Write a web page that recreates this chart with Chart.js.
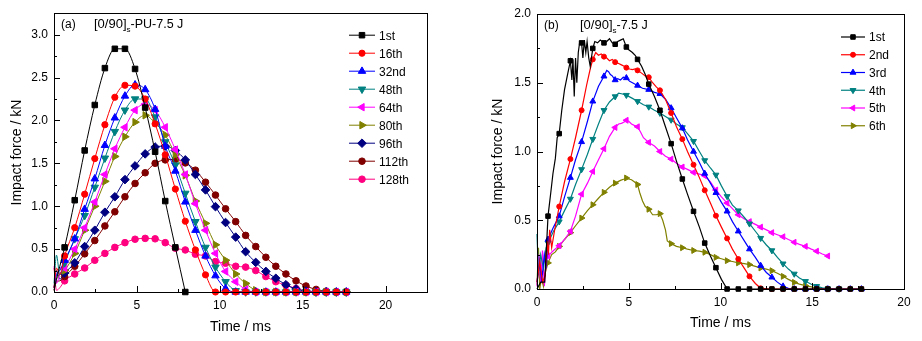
<!DOCTYPE html>
<html>
<head>
<meta charset="utf-8">
<script src="https://cdn.jsdelivr.net/npm/chart.js@4.4.1/dist/chart.umd.min.js"></script>
<style>
  html, body { margin: 0; padding: 0; background: #fff; }
  #wrap { position: relative; width: 922px; height: 341px; }
  canvas { position: absolute; top: 0; }
  #chartA { left: 0; }
  #chartB { left: 460px; }
</style>
</head>
<body>
<div id="wrap">
  <canvas id="chartA" width="460" height="341"></canvas>
  <canvas id="chartB" width="462" height="341"></canvas>
</div>
<script>
// ---- panel (a): [0/90]s-PU, repeated 7.5 J impacts (time in ms, force in kN)
const timeA = [0, 0.15, 0.35, 0.64, 1.25, 1.85, 2.46, 3.07, 3.67, 4.28, 4.89, 5.5, 6.1, 6.71, 7.32, 7.92,
  8.53, 9.14, 9.74, 10.35, 10.96, 11.56, 12.17, 12.78, 13.38, 13.99, 14.6, 15.2, 15.81, 16.42, 17.03, 17.63];
const forceA1st = [0.02, 0.15, 0.3, 0.52, 1.07, 1.65, 2.18, 2.61, 2.835, 2.835, 2.6, 2.15, 1.635, 1.06, 0.52, 0.0];
const forceA16th = [0.05, 0.28, 0.2, 0.42, 0.75, 1.14, 1.555, 1.95, 2.27, 2.41, 2.40, 2.25, 1.96, 1.6, 1.2, 0.825,
  0.49, 0.2, 0.0, 0, 0, 0, 0, 0, 0, 0, 0, 0, 0, 0, 0, 0];
const forceA32nd = [0.05, 0.2, 0.25, 0.37, 0.62, 0.965, 1.32, 1.71, 2.03, 2.285, 2.415, 2.36, 2.13, 1.70, 1.41, 1.05,
  0.72, 0.42, 0.19, 0.04, 0.0, 0, 0, 0, 0, 0, 0, 0, 0, 0, 0, 0];
const forceA48th = [0.1, 0.43, 0.2, 0.34, 0.62, 0.89, 1.22, 1.56, 1.87, 2.12, 2.25, 2.25, 2.04, 1.75, 1.48, 1.15,
  0.82, 0.52, 0.29, 0.12, 0.015, 0, 0, 0, 0, 0, 0, 0, 0, 0, 0, 0];
const forceA64th = [0.3, 0.1, 0.2, 0.28, 0.5, 0.75, 1.05, 1.37, 1.67, 1.92, 2.12, 2.19, 2.12, 1.92, 1.66, 1.37,
  1.03, 0.72, 0.45, 0.24, 0.12, 0.03, 0, 0, 0, 0, 0, 0, 0, 0, 0, 0];
const forceA80th = [0.05, 0.15, 0.2, 0.25, 0.45, 0.72, 1.0, 1.29, 1.58, 1.81, 1.98, 2.06, 1.97, 1.83, 1.6, 1.36,
  1.06, 0.8, 0.55, 0.37, 0.21, 0.1, 0.02, 0, 0, 0, 0, 0, 0, 0, 0, 0];
const forceA96th = [0.05, 0.25, 0.15, 0.22, 0.34, 0.53, 0.72, 0.93, 1.11, 1.31, 1.47, 1.61, 1.69, 1.70, 1.65, 1.54,
  1.37, 1.19, 0.995, 0.81, 0.64, 0.47, 0.345, 0.24, 0.16, 0.085, 0.035, 0.01, 0, 0, 0, 0];
const forceA112th = [0.02, 0.12, 0.13, 0.18, 0.3, 0.445, 0.6, 0.77, 0.935, 1.11, 1.265, 1.39, 1.5, 1.54, 1.545, 1.505,
  1.42, 1.28, 1.13, 0.97, 0.82, 0.66, 0.53, 0.405, 0.3, 0.21, 0.13, 0.07, 0.03, 0.01, 0, 0];
const forceA128th = [0.28, 0.02, 0.05, 0.13, 0.21, 0.28, 0.37, 0.45, 0.52, 0.575, 0.615, 0.625, 0.62, 0.575, 0.51, 0.49,
  0.44, 0.42, 0.355, 0.335, 0.30, 0.29, 0.25, 0.18, 0.12, 0.08, 0.04, 0.015, 0.005, 0, 0, 0];

// ---- panel (b): [0/90]s reference laminate, 7.5 J impacts
const timeB1st = [0, 0.2, 0.42, 0.6, 0.75, 0.87, 1.0, 1.1, 1.21, 1.35, 1.5, 1.65, 1.82, 1.9, 1.96, 2.03, 2.1, 2.17, 2.25, 2.33,
  2.43, 2.5, 2.58, 2.66, 2.73, 2.82, 2.9, 3.04, 3.15, 3.3, 3.45, 3.65, 3.8, 3.95, 4.1, 4.26, 4.4, 4.55, 4.7, 4.87, 5.0, 5.2,
  5.35, 5.48, 5.7, 5.9, 6.09, 6.4, 6.7, 7.0, 7.31, 7.6, 7.92, 8.2, 8.53, 8.85, 9.14, 9.45, 9.75, 10.05, 10.36, 10.97,
  11.58, 12.19, 12.8, 13.41, 14.02, 14.63, 15.24, 15.85, 16.46, 17.07, 17.68];
const forceB1st = [0, 0.05, 0.05, 0.53, 0.7, 0.84, 0.95, 1.1, 1.13, 1.3, 1.45, 1.55, 1.66, 1.52, 1.67, 1.4, 1.68, 1.5, 1.72, 1.8,
  1.79, 1.68, 1.81, 1.72, 1.8, 1.68, 1.62, 1.75, 1.8, 1.79, 1.81, 1.79, 1.8, 1.82, 1.79, 1.78, 1.8, 1.81, 1.82, 1.76, 1.74, 1.72,
  1.7, 1.67, 1.62, 1.56, 1.49, 1.4, 1.3, 1.18, 1.057, 0.93, 0.8, 0.69, 0.565, 0.45, 0.334, 0.24, 0.155, 0.07, 0, 0,
  0, 0, 0, 0, 0, 0, 0, 0, 0, 0, 0];
const timeB2nd = [0, 0.15, 0.3, 0.45, 0.55, 0.62, 0.69, 0.8, 0.95, 1.21, 1.5, 1.82, 2.1, 2.43, 2.7, 2.9, 3.04, 3.2, 3.35, 3.5,
  3.65, 3.8, 3.95, 4.1, 4.26, 4.45, 4.6, 4.75, 4.87, 5.05, 5.2, 5.35, 5.48, 5.7, 5.9, 6.09, 6.3, 6.5, 6.7, 7.0, 7.31, 7.6,
  7.92, 8.2, 8.53, 8.85, 9.14, 9.45, 9.75, 10.05, 10.36, 10.65, 10.97, 11.3, 11.58, 11.9, 12.19, 12.8, 13.41, 14.02,
  14.63, 15.24, 15.85, 16.46, 17.07, 17.68];
const forceB2nd = [0.05, 0.2, 0.05, 0.1, 0.35, 0.25, 0.43, 0.3, 0.42, 0.6, 0.78, 0.945, 1.1, 1.3, 1.48, 1.6, 1.67, 1.72, 1.7, 1.71,
  1.69, 1.68, 1.66, 1.67, 1.65, 1.64, 1.63, 1.62, 1.61, 1.6, 1.595, 1.6, 1.59, 1.57, 1.55, 1.54, 1.5, 1.47, 1.445, 1.38, 1.28, 1.18,
  1.09, 1.0, 0.904, 0.81, 0.718, 0.625, 0.533, 0.45, 0.368, 0.29, 0.218, 0.15, 0.092, 0.04, 0.005, 0, 0, 0,
  0, 0, 0, 0, 0, 0];
const timeB3rd = [0, 0.15, 0.25, 0.4, 0.5, 0.6, 0.9, 1.21, 1.5, 1.82, 2.1, 2.43, 2.75, 3.04, 3.35, 3.65, 3.8, 3.9, 4.0, 4.1,
  4.26, 4.4, 4.55, 4.7, 4.87, 5.05, 5.2, 5.48, 5.75, 6.09, 6.4, 6.7, 7.0, 7.31, 7.6, 7.92, 8.2, 8.53, 8.85, 9.14, 9.45, 9.75,
  10.05, 10.36, 10.65, 10.97, 11.3, 11.58, 11.9, 12.19, 12.5, 12.8, 13.1, 13.41, 13.7, 14.02, 14.63, 15.24, 15.85, 16.46,
  17.07, 17.68];
const forceB3rd = [0.05, 0.2, 0.05, 0.25, 0.15, 0.36, 0.45, 0.53, 0.67, 0.81, 0.94, 1.07, 1.22, 1.365, 1.475, 1.547, 1.59, 1.58, 1.56, 1.55,
  1.52, 1.53, 1.52, 1.54, 1.535, 1.51, 1.5, 1.48, 1.46, 1.45, 1.43, 1.42, 1.38, 1.316, 1.245, 1.17, 1.085, 1.0, 0.92, 0.84, 0.77, 0.70,
  0.63, 0.565, 0.49, 0.42, 0.35, 0.29, 0.23, 0.17, 0.12, 0.085, 0.05, 0.02, 0.005, 0, 0, 0, 0, 0,
  0, 0];
const timeB4th = [0, 0.08, 0.2, 0.35, 0.5, 0.6, 0.9, 1.21, 1.5, 1.82, 2.1, 2.43, 2.75, 3.04, 3.35, 3.65, 3.95, 4.26, 4.45, 4.6,
  4.75, 4.87, 5.15, 5.48, 5.8, 6.09, 6.4, 6.7, 7.0, 7.31, 7.6, 7.92, 8.2, 8.53, 8.85, 9.14, 9.45, 9.75, 10.05, 10.36, 10.65,
  10.97, 11.3, 11.58, 11.9, 12.19, 12.5, 12.8, 13.1, 13.41, 13.7, 14.02, 14.3, 14.63, 14.95, 15.24, 15.55, 15.85, 16.46];
const forceB4th = [0.4, 0.1, 0.25, 0.15, 0.3, 0.335, 0.42, 0.49, 0.57, 0.655, 0.76, 0.87, 0.98, 1.09, 1.2, 1.30, 1.36, 1.40, 1.425, 1.42,
  1.415, 1.41, 1.39, 1.365, 1.34, 1.325, 1.30, 1.28, 1.255, 1.23, 1.2, 1.175, 1.13, 1.075, 1.0, 0.935, 0.88, 0.83, 0.75, 0.674, 0.61,
  0.57, 0.52, 0.475, 0.42, 0.37, 0.32, 0.28, 0.23, 0.184, 0.145, 0.11, 0.08, 0.056, 0.035, 0.02, 0.008, 0.002, 0];
const timeB5th = [0, 0.1, 0.2, 0.3, 0.4, 0.5, 0.6, 0.9, 1.21, 1.5, 1.82, 2.1, 2.43, 2.75, 3.04, 3.35, 3.65, 3.95, 4.26, 4.45,
  4.6, 4.75, 4.87, 5.0, 5.15, 5.3, 5.48, 5.65, 5.8, 6.09, 6.4, 6.7, 7.0, 7.31, 7.6, 7.92, 8.2, 8.53, 8.85, 9.14, 9.45, 9.75,
  10.05, 10.36, 10.65, 10.97, 11.3, 11.58, 11.9, 12.19, 12.5, 12.8, 13.1, 13.41, 13.7, 14.02, 14.3, 14.63, 14.95, 15.24,
  15.55, 15.85];
const forceB5th = [0.02, 0.25, 0.05, 0.28, 0.02, 0.2, 0.24, 0.28, 0.315, 0.36, 0.42, 0.53, 0.69, 0.77, 0.855, 0.94, 1.02, 1.11, 1.175, 1.2,
  1.205, 1.215, 1.227, 1.22, 1.2, 1.19, 1.18, 1.14, 1.1, 1.066, 1.04, 1.0, 0.965, 0.945, 0.915, 0.887, 0.87, 0.848, 0.835, 0.824, 0.78, 0.72,
  0.67, 0.625, 0.585, 0.54, 0.51, 0.49, 0.47, 0.45, 0.43, 0.41, 0.395, 0.38, 0.36, 0.34, 0.325, 0.31, 0.29, 0.275,
  0.255, 0.24];
const timeB6th = [0, 0.08, 0.15, 0.25, 0.35, 0.45, 0.6, 0.8, 1.0, 1.21, 1.5, 1.82, 2.1, 2.43, 2.75, 3.04, 3.35, 3.65, 3.95, 4.26,
  4.55, 4.75, 4.87, 5.0, 5.15, 5.3, 5.48, 5.6, 5.75, 5.9, 6.09, 6.3, 6.5, 6.7, 6.85, 7.0, 7.1, 7.31, 7.6, 7.92, 8.2, 8.53,
  8.85, 9.14, 9.45, 9.75, 10.05, 10.36, 10.65, 10.97, 11.3, 11.58, 11.9, 12.19, 12.5, 12.8, 13.1, 13.41, 13.7, 14.02,
  14.3, 14.63, 14.95, 15.24, 15.55, 15.85];
const forceB6th = [0.03, 0.3, 0.0, 0.08, 0.02, 0.12, 0.19, 0.25, 0.27, 0.31, 0.36, 0.41, 0.46, 0.516, 0.57, 0.613, 0.66, 0.703, 0.74, 0.77,
  0.79, 0.8, 0.807, 0.8, 0.795, 0.78, 0.76, 0.7, 0.64, 0.6, 0.58, 0.54, 0.54, 0.548, 0.5, 0.43, 0.35, 0.33, 0.31, 0.3, 0.29, 0.28,
  0.275, 0.267, 0.25, 0.23, 0.22, 0.206, 0.2, 0.19, 0.185, 0.177, 0.165, 0.153, 0.145, 0.133, 0.115, 0.092, 0.07, 0.048,
  0.035, 0.024, 0.015, 0.007, 0.003, 0];

const xTicks = [0, 5, 10, 15, 20];

const FONT = 'Arial, "Liberation Sans", sans-serif';
Chart.defaults.font.family = FONT;
Chart.defaults.color = '#000';

function pairs(times, forces) {
  return forces.map((f, i) => ({ x: times[i], y: f }));
}

// panel (b) markers sit on every 0.61 ms sample starting at 0.6 ms
function onMarkGrid(x) {
  const k = (x - 0.6) / 0.61;
  return x > 0.55 && Math.abs(k - Math.round(k)) < 0.02;
}

function series(label, data, color, style, rotation, radius, lineWidth, markAt) {
  return {
    label, data,
    borderColor: color, backgroundColor: color,
    pointBackgroundColor: color, pointBorderColor: color,
    borderWidth: lineWidth, pointBorderWidth: 1,
    pointStyle: style, rotation,
    markerRadius: radius,
    pointRadius: ctx => (ctx.raw && markAt(ctx.raw.x) ? radius : 0),
    pointHoverRadius: 0,
    clip: false
  };
}

function drawMarker(ctx, style, rot, r, x, y) {
  ctx.beginPath();
  if (style === 'circle') {
    ctx.arc(x, y, r, 0, Math.PI * 2);
  } else if (style === 'rect') {
    const s = r * Math.SQRT1_2;
    ctx.rect(x - s, y - s, 2 * s, 2 * s);
  } else if (style === 'rectRot') {
    ctx.moveTo(x, y - r); ctx.lineTo(x + r, y); ctx.lineTo(x, y + r); ctx.lineTo(x - r, y);
    ctx.closePath();
  } else {
    let a = (rot || 0) * Math.PI / 180;
    ctx.moveTo(x + Math.sin(a) * r, y - Math.cos(a) * r);
    a += Math.PI * 2 / 3;
    ctx.lineTo(x + Math.sin(a) * r, y - Math.cos(a) * r);
    a += Math.PI * 2 / 3;
    ctx.lineTo(x + Math.sin(a) * r, y - Math.cos(a) * r);
    ctx.closePath();
  }
  ctx.fill();
  ctx.stroke();
}

// frame, inward ticks, in-plot legend and panel caption
const panelDecor = {
  id: 'panelDecor',
  afterDraw(chart, args, o) {
    const { ctx, chartArea: a } = chart;
    const xs = chart.scales.x, ys = chart.scales.y;
    ctx.save();
    ctx.strokeStyle = '#000';
    ctx.lineWidth = 1;
    ctx.beginPath();
    for (let i = 0; i * o.yMinor <= ys.max + 1e-9; i++) {
      const py = Math.round(ys.getPixelForValue(i * o.yMinor)) + 0.5;
      const len = i % 2 === 0 ? 6 : 3;
      ctx.moveTo(a.left, py); ctx.lineTo(a.left + len, py);
    }
    for (let i = 0; i * o.xMinor <= xs.max + 1e-9; i++) {
      const px = Math.round(xs.getPixelForValue(i * o.xMinor)) + 0.5;
      const len = i % 2 === 0 ? 6 : 3;
      ctx.moveTo(px, a.bottom); ctx.lineTo(px, a.bottom - len);
    }
    ctx.stroke();
    ctx.strokeRect(Math.round(a.left) + 0.5, Math.round(a.top) + 0.5,
      Math.round(a.right - a.left), Math.round(a.bottom - a.top));

    // legend: short line with the marker centred on it
    ctx.font = '12px ' + FONT;
    ctx.textBaseline = 'middle';
    ctx.textAlign = 'left';
    chart.data.datasets.forEach((ds, i) => {
      const y = a.top + o.legendTop + i * o.legendStep;
      const x1 = a.right + o.legendX1, x2 = a.right + o.legendX2;
      ctx.strokeStyle = ds.borderColor;
      ctx.fillStyle = ds.borderColor;
      ctx.lineWidth = ds.borderWidth;
      ctx.beginPath(); ctx.moveTo(x1, y); ctx.lineTo(x2, y); ctx.stroke();
      ctx.lineWidth = 1;
      drawMarker(ctx, ds.pointStyle, ds.rotation, ds.markerRadius, (x1 + x2) / 2, y);
      ctx.fillStyle = '#000';
      ctx.fillText(ds.label, a.right + o.legendText, y + 1);
    });

    // caption "(a)  [0/90]s-..."
    ctx.fillStyle = '#000';
    ctx.textBaseline = 'alphabetic';
    ctx.font = '12px ' + FONT;
    const by = a.top + o.capY;
    ctx.fillText(o.tag, a.left + 7, by);
    let cx = a.left + o.capX;
    ctx.font = '13px ' + FONT;
    ctx.fillText('[0/90]', cx, by);
    cx += ctx.measureText('[0/90]').width;
    ctx.font = '8px ' + FONT;
    ctx.fillText('s', cx, by + 4);
    cx += ctx.measureText('s').width;
    ctx.font = '12.5px ' + FONT;
    ctx.fillText(o.rest, cx, by);
    ctx.restore();
  }
};

function axes(xMax, yMax, yWidth, xHeight, yTitlePad, xTitlePad) {
  return {
    x: {
      type: 'linear', min: 0, max: xMax,
      afterFit: s => { s.height = xHeight; },
      afterBuildTicks: s => { s.ticks = xTicks.filter(v => v <= xMax).map(v => ({ value: v })); },
      ticks: { font: { size: 12 }, padding: 6, maxRotation: 0, callback: v => String(v) },
      grid: { display: false, drawTicks: false },
      border: { display: false },
      title: { display: true, text: 'Time / ms', font: { size: 14 }, padding: { top: 0, bottom: xTitlePad } }
    },
    y: {
      type: 'linear', min: 0, max: yMax,
      afterFit: s => { s.width = yWidth; },
      ticks: { stepSize: 0.5, includeBounds: false, font: { size: 12 }, padding: 6, callback: v => v.toFixed(1) },
      grid: { display: false, drawTicks: false },
      border: { display: false },
      title: { display: true, text: 'Impact force / kN', font: { size: 14 }, padding: { top: yTitlePad, bottom: 0 } }
    }
  };
}

new Chart(document.getElementById('chartA'), {
  type: 'line',
  data: {
    datasets: [
      series('1st', pairs(timeA, forceA1st), '#000000', 'rect', 0, 3.9, 1, x => x > 0.5),
      series('16th', pairs(timeA, forceA16th), '#ff0000', 'circle', 0, 3.1, 1, x => x > 0.5),
      series('32nd', pairs(timeA, forceA32nd), '#0000ff', 'triangle', 0, 4.3, 1, x => x > 0.5),
      series('48th', pairs(timeA, forceA48th), '#008080', 'triangle', 180, 4.3, 1, x => x > 0.5),
      series('64th', pairs(timeA, forceA64th), '#ff00ff', 'triangle', 270, 4.3, 1, x => x > 0.5),
      series('80th', pairs(timeA, forceA80th), '#808000', 'triangle', 90, 4.3, 1, x => x > 0.5),
      series('96th', pairs(timeA, forceA96th), '#000080', 'rectRot', 0, 4.3, 1, x => x > 0.5),
      series('112th', pairs(timeA, forceA112th), '#800000', 'circle', 0, 3.3, 1, x => x > 0.5),
      series('128th', pairs(timeA, forceA128th), '#ff0080', 'circle', 0, 3.3, 1, x => x > 0.5)
    ]
  },
  options: {
    responsive: false, animation: false, devicePixelRatio: 1,
    layout: { padding: { left: 0, top: 12, right: 33, bottom: 0 } },
    scales: axes(22.5, 3.25, 54, 49, 8.3, 5.6),
    elements: { line: { cubicInterpolationMode: 'monotone' } },
    plugins: {
      legend: { display: false }, tooltip: { enabled: false },
      panelDecor: {
        yMinor: 0.25, xMinor: 2.5,
        legendTop: 22, legendStep: 18, legendX1: -78, legendX2: -52, legendText: -48,
        tag: '(a)', capX: 40, capY: 14.5, rest: '-PU-7.5 J'
      }
    }
  },
  plugins: [panelDecor]
});

new Chart(document.getElementById('chartB'), {
  type: 'line',
  data: {
    datasets: [
      series('1st', pairs(timeB1st, forceB1st), '#000000', 'rect', 0, 3.2, 1.2, onMarkGrid),
      series('2nd', pairs(timeB2nd, forceB2nd), '#ff0000', 'circle', 0, 2.5, 1.2, onMarkGrid),
      series('3rd', pairs(timeB3rd, forceB3rd), '#0000ff', 'triangle', 0, 3.4, 1.2, onMarkGrid),
      series('4th', pairs(timeB4th, forceB4th), '#008080', 'triangle', 180, 3.4, 1.2, onMarkGrid),
      series('5th', pairs(timeB5th, forceB5th), '#ff00ff', 'triangle', 270, 3.4, 1.2, onMarkGrid),
      series('6th', pairs(timeB6th, forceB6th), '#808000', 'triangle', 90, 3.4, 1.2, onMarkGrid)
    ]
  },
  options: {
    responsive: false, animation: false, devicePixelRatio: 1,
    layout: { padding: { left: 0, top: 14, right: 18, bottom: 0 } },
    scales: axes(20, 2.0, 77, 52, 29.3, 9.6),
    elements: { line: { tension: 0 } },
    plugins: {
      legend: { display: false }, tooltip: { enabled: false },
      panelDecor: {
        yMinor: 0.25, xMinor: 2.5,
        legendTop: 23, legendStep: 17.75, legendX1: -63, legendX2: -39, legendText: -35,
        tag: '(b)', capX: 43, capY: 14.5, rest: '-7.5 J'
      }
    }
  },
  plugins: [panelDecor]
});
</script>
</body>
</html>
